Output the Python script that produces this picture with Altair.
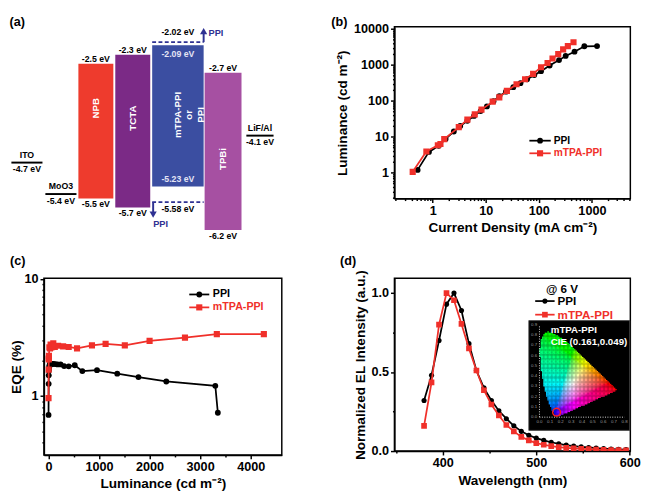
import altair as alt
import numpy as np
import pandas as pd

FONT = "Liberation Sans"
SERIES = ["PPI", "mTPA-PPI"]
SERIES_COLORS = ["#000000", "#F0302A"]
SERIES_SHAPES = ["circle", "square"]

# ---------------- (a) energy-level diagram ----------------
slot_widths = [32, 32, 36, 36, 53, 38, 28]      # ITO, MoO3, NPB, TCTA, EML, TPBi, LiF/Al
slot_gaps = [3, 2, 2, 2, 1, 5]

organic_names = ["NPB", "TCTA", "mTPA-PPI\nor\nPPI", "TPBi"]
organic_slots = [2, 3, 4, 5]
organic_lumo = [-2.5, -2.3, -2.09, -2.7]
organic_homo = [-5.5, -5.7, -5.23, -6.2]
organic_colors = ["#EE3B2D", "#7B2A86", "#3B4EA1", "#A650A2"]
organic_name_pos = [-3.49, -3.71, -3.64, -4.62]

electrode_names = ["ITO", "MoO3", "LiF/Al"]
electrode_slots = [0, 1, 6]
electrode_levels = [-4.7, -5.4, -4.1]

ppi_lumo = -2.02
ppi_homo = -5.58
ppi_arrow_tips = [-1.70, -5.93]
ARROW = "#2E3192"

# ---------------- (b) / (c) device data ----------------
ppi_J = [0.52, 0.85, 1.3, 1.75, 2.5, 3.3, 4.5, 6.0, 8.0, 10.5, 14, 18, 24, 33, 45, 60, 82, 110, 160, 240, 320, 470, 720, 1250]
ppi_L = [1.2, 3.8, 5.6, 8.7, 14, 20, 28, 38, 52, 70, 98, 135, 180, 240, 310, 400, 520, 670, 960, 1360, 1780, 2330, 3300, 3350]
ppi_EQE = [0.69, 1.27, 1.5, 1.65, 1.76, 1.83, 1.87, 1.88, 1.87, 1.87, 1.88, 1.87, 1.86, 1.86, 1.80, 1.79, 1.83, 1.63, 1.66, 1.55, 1.45, 1.33, 1.22, 0.72]

mtpa_J = [0.42, 0.76, 1.25, 1.4, 1.65, 3.1, 4.5, 6.2, 8.3, 13.5, 18, 25, 38, 55, 78, 110, 146, 181, 232, 287, 352, 450]
mtpa_L = [1.06, 3.9, 5.8, 6.3, 8.6, 18.5, 30, 42, 57, 95, 125, 190, 290, 400, 565, 860, 1130, 1510, 2000, 2700, 3330, 4260]
mtpa_EQE = [0.96, 1.68, 2.05, 2.1, 2.2, 2.6, 2.55, 2.75, 2.6, 2.82, 2.62, 2.68, 2.65, 2.62, 2.55, 2.70, 2.78, 2.70, 2.95, 3.15, 3.37, 3.37]

# ---------------- (d) EL spectra ----------------
wavelength = [380, 388, 396, 404, 412, 420, 428, 436, 444, 452, 460, 468, 476, 484,
              492, 500, 508, 516, 524, 532, 540, 548, 556, 564, 572, 580, 588, 596]
ppi_EL = [0.32, 0.48, 0.70, 0.93, 1.00, 0.89, 0.68, 0.51, 0.40, 0.32, 0.255, 0.205, 0.16, 0.125,
          0.10, 0.082, 0.068, 0.056, 0.046, 0.038, 0.032, 0.027, 0.023, 0.019, 0.016, 0.013, 0.011, 0.009]
mtpa_EL = [0.16, 0.435, 0.80, 1.00, 0.955, 0.805, 0.65, 0.51, 0.385, 0.295, 0.225, 0.165, 0.125, 0.09,
           0.068, 0.05, 0.04, 0.031, 0.025, 0.02, 0.017, 0.014, 0.012, 0.01, 0.008, 0.007, 0.006, 0.005]

# CIE 1931 spectral locus (chromaticity x, y)
cie_x = [0.1741, 0.1733, 0.1714, 0.1644, 0.1566, 0.1440, 0.1355, 0.1241, 0.1096, 0.0913, 0.0687, 0.0454,
         0.0235, 0.0082, 0.0039, 0.0139, 0.0389, 0.0743, 0.1142, 0.1547, 0.2296, 0.3016, 0.3731, 0.4441,
         0.5125, 0.5752, 0.6270, 0.6915, 0.7190, 0.7347]
cie_y = [0.0050, 0.0048, 0.0051, 0.0109, 0.0177, 0.0297, 0.0399, 0.0578, 0.0868, 0.1327, 0.2007, 0.2950,
         0.4127, 0.5384, 0.6548, 0.7502, 0.8120, 0.8338, 0.8262, 0.8059, 0.7543, 0.6923, 0.6245, 0.5547,
         0.4866, 0.4242, 0.3725, 0.3083, 0.2809, 0.2653]
cie_point = (0.161, 0.049)
inset_text = ["mTPA-PPI", "CIE (0.161,0.049)"]
panel_labels = ["(a)", "(b)", "(c)", "(d)"]


# ================= helpers =================
def panel_label(t, x, y):
    return alt.Chart(pd.DataFrame({"t": [t]})).mark_text(
        font=FONT, fontWeight="bold", fontSize=13, color="black", align="left", baseline="middle").encode(
        x=alt.value(x), y=alt.value(y), text="t:N")


def log_minor(lo, hi):
    out = []
    for e in range(-2, 6):
        for m in range(2, 10):
            v = round(m * 10.0 ** e, 6)
            if lo <= v <= hi:
                out.append(v)
    return out


def minor_layer(df, xf, yf, xs, ys, xminor, yminor):
    return alt.Chart(df).mark_point(opacity=0).encode(
        x=alt.X(f"{xf}:Q", scale=xs, axis=alt.Axis(orient="bottom", values=xminor, labels=False, title=None,
                                                    tickSize=2, domain=False, grid=False)),
        y=alt.Y(f"{yf}:Q", scale=ys, axis=alt.Axis(orient="left", values=yminor, labels=False, title=None,
                                                    tickSize=2, domain=False, grid=False)),
    )


def series_layers(frames, xf, yf, xs, ys, xaxis, yaxis, msizes, lw=1.8):
    layers = []
    for i, (df, col, shp, ms) in enumerate(zip(frames, SERIES_COLORS, SERIES_SHAPES, msizes)):
        layers.append(alt.Chart(df).mark_line(color=col, strokeWidth=lw, clip=True).encode(
            x=alt.X(f"{xf}:Q", scale=xs, axis=xaxis if i == 0 else None),
            y=alt.Y(f"{yf}:Q", scale=ys, axis=yaxis if i == 0 else None)))
        layers.append(alt.Chart(df).mark_point(filled=True, opacity=1, color=col, shape=shp, size=ms,
                                               clip=True).encode(
            x=alt.X(f"{xf}:Q", scale=xs, axis=None),
            y=alt.Y(f"{yf}:Q", scale=ys, axis=None)))
    return layers


def legend_layers(x0, x1, xt, y0, dy, fs, msizes, lw=1.8):
    layers = []
    for i, (name, col, shp, ms) in enumerate(zip(SERIES, SERIES_COLORS, SERIES_SHAPES, msizes)):
        d = pd.DataFrame({"series": [name]})
        y = y0 + i * dy
        layers.append(alt.Chart(d).mark_rule(color=col, strokeWidth=lw).encode(
            x=alt.value(x0), x2=alt.value(x1), y=alt.value(y)))
        layers.append(alt.Chart(d).mark_point(filled=True, opacity=1, color=col, shape=shp, size=ms).encode(
            x=alt.value((x0 + x1) / 2), y=alt.value(y)))
        layers.append(alt.Chart(d).mark_text(align="left", baseline="middle", font=FONT, fontWeight="bold",
                                             fontSize=fs, color=col).encode(
            x=alt.value(xt), y=alt.value(y), text="series:N"))
    return layers


# ================= panel (a) =================
# (a) shares its grid-cell origin with (c) (left edge) and (b) (top edge); its drawing spills past that frame
x0s = []
pos = 2
for i, w in enumerate(slot_widths):
    x0s.append(pos)
    pos += w + (slot_gaps[i] if i < len(slot_gaps) else 0)
x1s = [a + w for a, w in zip(x0s, slot_widths)]

A_W, A_H = 240, 177
A_X0 = 35.5
XA = alt.Scale(domain=[A_X0, A_X0 + A_W], nice=False, zero=False)
YA = alt.Scale(domain=[-5.502, -1.679], nice=False, zero=False)


def ax_(f):
    return alt.X(f, scale=XA, axis=None)


def ay_(f):
    return alt.Y(f, scale=YA, axis=None)


boxes = pd.DataFrame({
    "x0": [x0s[s] for s in organic_slots], "x1": [x1s[s] for s in organic_slots],
    "lumo": organic_lumo, "homo": organic_homo, "color": organic_colors,
    "name": organic_names, "npos": organic_name_pos,
})
boxes["xc"] = (boxes["x0"] + boxes["x1"]) / 2
boxes["top_t"] = [f"{v:g} eV" for v in organic_lumo]
boxes["bot_t"] = [f"{v:g} eV" for v in organic_homo]
boxes["top_ppi"] = [ppi_lumo if s == 4 else v for s, v in zip(organic_slots, organic_lumo)]
boxes["bot_ppi"] = [ppi_homo if s == 4 else v for s, v in zip(organic_slots, organic_homo)]
boxes["top_lab"] = [f"{ppi_lumo:g} eV" if s == 4 else t for s, t in zip(organic_slots, boxes["top_t"])]
boxes["bot_lab"] = [f"{ppi_homo:g} eV" if s == 4 else t for s, t in zip(organic_slots, boxes["bot_t"])]
eml = boxes[boxes["x0"] == x0s[4]].reset_index(drop=True)
others = boxes[boxes["x0"] != x0s[4]].reset_index(drop=True)

elec = pd.DataFrame({
    "x0": [x0s[s] for s in electrode_slots], "x1": [x1s[s] for s in electrode_slots],
    "E": electrode_levels, "name": electrode_names,
})
elec["xc"] = (elec["x0"] + elec["x1"]) / 2
elec["val"] = [f"{v:g} eV" for v in electrode_levels]

txt = dict(font=FONT, fontWeight="bold", fontSize=9, color="black", align="center", baseline="alphabetic")

rects = alt.Chart(boxes).mark_rect().encode(
    x=ax_("x0:Q"), x2="x1:Q", y=ay_("lumo:Q"), y2="homo:Q", color=alt.Color("color:N", scale=None))
elec_lines = alt.Chart(elec).mark_rule(color="black", strokeWidth=2).encode(
    x=ax_("x0:Q"), x2="x1:Q", y=ay_("E:Q"))
elec_names = alt.Chart(elec).mark_text(dy=-5, **txt).encode(x=ax_("xc:Q"), y=ay_("E:Q"), text="name:N")
elec_vals = alt.Chart(elec).mark_text(dy=10, **txt).encode(x=ax_("xc:Q"), y=ay_("E:Q"), text="val:N")
top_vals = alt.Chart(others).mark_text(dy=-1.5, **txt).encode(x=ax_("xc:Q"), y=ay_("lumo:Q"), text="top_t:N")
bot_vals = alt.Chart(others).mark_text(dy=9, **txt).encode(x=ax_("xc:Q"), y=ay_("homo:Q"), text="bot_t:N")
ppi_top_val = alt.Chart(eml).mark_text(dy=-7, **txt).encode(x=ax_("xc:Q"), y=ay_("top_ppi:Q"), text="top_lab:N")
ppi_bot_val = alt.Chart(eml).mark_text(dy=10, **txt).encode(x=ax_("xc:Q"), y=ay_("bot_ppi:Q"), text="bot_lab:N")
in_txt = dict(txt, color="#E4E4F4")
eml_top_in = alt.Chart(eml).mark_text(dy=12, **in_txt).encode(x=ax_("xc:Q"), y=ay_("lumo:Q"), text="top_t:N")
eml_bot_in = alt.Chart(eml).mark_text(dy=-5, **in_txt).encode(x=ax_("xc:Q"), y=ay_("homo:Q"), text="bot_t:N")
names_rot = alt.Chart(boxes).mark_text(angle=270, font=FONT, fontWeight="bold", fontSize=10, color="white",
                                       align="center", baseline="middle", lineBreak="\n", lineHeight=12).encode(
    x=ax_("xc:Q"), y=ay_("npos:Q"), text="name:N")

dash = pd.DataFrame({"x0": [x0s[4]] * 2, "x1": [x1s[4]] * 2, "E": [ppi_lumo, ppi_homo]})
dashes = alt.Chart(dash).mark_rule(color=ARROW, strokeWidth=2, strokeDash=[4, 2.5]).encode(
    x=ax_("x0:Q"), x2="x1:Q", y=ay_("E:Q"))
arrows = pd.DataFrame({
    "x": [x1s[4], x0s[4] + 1], "E0": [ppi_lumo, ppi_homo],
    "tip": ppi_arrow_tips, "head": [ppi_arrow_tips[0] - 0.075, ppi_arrow_tips[1] + 0.075],
    "shape": ["triangle-up", "triangle-down"], "lab": ["PPI", "PPI"],
    "lx": [x1s[4] + 5, x0s[4] + 1], "ly": [-1.81, -6.06],
})
arrow_shafts = alt.Chart(arrows).mark_rule(color=ARROW, strokeWidth=2).encode(
    x=ax_("x:Q"), y=ay_("E0:Q"), y2="head:Q")
arrow_heads = alt.Chart(arrows).mark_point(filled=True, opacity=1, color=ARROW, size=55).encode(
    x=ax_("x:Q"), y=ay_("head:Q"), shape=alt.Shape("shape:N", scale=None))
arrow_labs = alt.Chart(arrows).mark_text(font=FONT, fontWeight="bold", fontSize=9.5, color=ARROW,
                                         align="left", baseline="middle").encode(
    x=ax_("lx:Q"), y=ay_("ly:Q"), text="lab:N")

panel_a = alt.layer(rects, elec_lines, dashes, arrow_shafts, arrow_heads, elec_names, elec_vals, top_vals,
                    bot_vals, ppi_top_val, ppi_bot_val, eml_top_in, eml_bot_in, names_rot, arrow_labs,
                    panel_label(panel_labels[0], -A_X0, -5)).properties(
    width=A_W, height=A_H, view=alt.ViewBackground(stroke="transparent"))

# ================= panel (b) =================
xs_b = alt.Scale(type="log", domain=[0.19, 5300], nice=False)
ys_b = alt.Scale(type="log", domain=[0.19, 11500], nice=False)
frames_b = [pd.DataFrame({"J": ppi_J, "L": ppi_L}), pd.DataFrame({"J": mtpa_J, "L": mtpa_L})]
panel_b = alt.layer(
    minor_layer(frames_b[0], "J", "L", xs_b, ys_b, log_minor(0.19, 5300), log_minor(0.19, 11500)),
    *series_layers(frames_b, "J", "L", xs_b, ys_b,
                   alt.Axis(orient="bottom", title="Current Density (mA cm⁻²)", values=[1, 10, 100, 1000], format="d"),
                   alt.Axis(orient="left", title="Luminance (cd m⁻²)", values=[1, 10, 100, 1000, 10000], format="d"),
                   [36, 40]),
    *legend_layers(139, 161, 164, 117.3, 13, 10.5, [36, 40]),
    panel_label(panel_labels[1], -65, -5),
).resolve_axis(x="independent", y="independent").properties(width=243, height=177)

# ================= panel (c) =================
xs_c = alt.Scale(domain=[-90, 4615], nice=False, zero=False)
ys_c = alt.Scale(type="log", domain=[0.314, 10.1], nice=False)
frames_c = [pd.DataFrame({"L": ppi_L, "EQE": ppi_EQE}), pd.DataFrame({"L": mtpa_L, "EQE": mtpa_EQE})]
panel_c = alt.layer(
    minor_layer(frames_c[0], "L", "EQE", xs_c, ys_c, [500, 1500, 2500, 3500], log_minor(0.314, 10.1)),
    *series_layers(frames_c, "L", "EQE", xs_c, ys_c,
                   alt.Axis(orient="bottom", title="Luminance (cd m⁻²)", values=[0, 1000, 2000, 3000, 4000], format="d"),
                   alt.Axis(orient="left", title="EQE (%)", values=[1, 10], format="d", titlePadding=1),
                   [36, 40]),
    *legend_layers(149.7, 170.3, 174, 16.7, 13.3, 11, [36, 40]),
    panel_label(panel_labels[2], -35, -18),
).resolve_axis(x="independent", y="independent").properties(width=245, height=182)

# ================= panel (d) =================
xs_d = alt.Scale(domain=[348.3, 600.6], nice=False, zero=False)
ys_d = alt.Scale(domain=[0, 1.094], nice=False, zero=False)
frames_d = [pd.DataFrame({"wl": wavelength, "I": ppi_EL}), pd.DataFrame({"wl": wavelength, "I": mtpa_EL})]

# inset: CIE chromaticity diagram placed in data space of (d)
INSET_L0, INSET_LS = 503.4, 113.8     # wavelength-axis position of CIE x = 0 and units per CIE unit
INSET_I0, INSET_IS = 0.2147, 0.648    # intensity-axis position of CIE y = 0 and units per CIE unit


def to_l(cx):
    return INSET_L0 + INSET_LS * np.asarray(cx)


def to_i(cy):
    return INSET_I0 + INSET_IS * np.asarray(cy)


def inside(px, py, polx, poly):
    res = np.zeros(px.shape, bool)
    n = len(polx)
    j = n - 1
    for i in range(n):
        xi, yi, xj, yj = polx[i], poly[i], polx[j], poly[j]
        cond = ((yi > py) != (yj > py)) & (px < (xj - xi) * (py - yi) / ((yj - yi) + 1e-12) + xi)
        res ^= cond
        j = i
    return res


step = 0.0125
gx, gy = np.meshgrid(np.arange(step / 2, 0.75, step), np.arange(step / 2, 0.85, step))
mask = inside(gx, gy, cie_x, cie_y)
cx, cy = gx[mask], gy[mask]
X = cx / cy
Z = (1 - cx - cy) / cy
R = 3.2406 * X - 1.5372 - 0.4986 * Z
G = -0.9689 * X + 1.8758 + 0.0415 * Z
B = 0.0557 * X - 0.2040 + 1.0570 * Z
rgb = np.clip(np.stack([R, G, B], 1), 0, None)
rgb = rgb / rgb.max(1, keepdims=True)
rgb = np.where(rgb <= 0.0031308, 12.92 * rgb, 1.055 * rgb ** (1 / 2.4) - 0.055)
hexes = ["#%02x%02x%02x" % tuple(int(round(c * 255)) for c in row) for row in rgb]
half = step * 0.55
cie_df = pd.DataFrame({"l0": to_l(cx - half), "l1": to_l(cx + half), "i0": to_i(cy - half),
                       "i1": to_i(cy + half), "c": hexes})

box_df = pd.DataFrame({"l0": [492], "l1": [600], "i0": [0.131], "i1": [0.826]})
inset_bg = alt.Chart(box_df).mark_rect(color="black", stroke="#444444", strokeWidth=0.8).encode(
    x=alt.X("l0:Q", scale=xs_d, axis=None), x2="l1:Q", y=alt.Y("i0:Q", scale=ys_d, axis=None), y2="i1:Q")
inset_cie = alt.Chart(cie_df).mark_rect().encode(
    x=alt.X("l0:Q", scale=xs_d, axis=None), x2="l1:Q", y=alt.Y("i0:Q", scale=ys_d, axis=None), y2="i1:Q",
    color=alt.Color("c:N", scale=None))
iax = pd.DataFrame({"l0": [float(to_l(0)), float(to_l(0))], "l1": [float(to_l(0.8)), float(to_l(0))],
                    "i0": [float(to_i(0)), float(to_i(0))], "i1": [float(to_i(0)), float(to_i(0.9))]})
inset_axes = alt.Chart(iax).mark_rule(color="#DDDDDD", strokeWidth=1, strokeDash=[1, 1.5]).encode(
    x=alt.X("l0:Q", scale=xs_d, axis=None), x2="l1:Q", y=alt.Y("i0:Q", scale=ys_d, axis=None), y2="i1:Q")
xt = [round(0.1 * k, 1) for k in range(9)]
yt = [round(0.1 * k, 1) for k in range(10)]
itx = pd.DataFrame({"l": to_l(xt), "i": [float(to_i(-0.045))] * len(xt), "t": [f"{v:.1f}" for v in xt]})
ity = pd.DataFrame({"l": [float(to_l(-0.05))] * len(yt), "i": to_i(yt), "t": [f"{v:.1f}" for v in yt]})
small = dict(font=FONT, fontSize=4.5, color="#9A9A9A", align="center", baseline="middle")
inset_tx = alt.Chart(itx).mark_text(**small).encode(
    x=alt.X("l:Q", scale=xs_d, axis=None), y=alt.Y("i:Q", scale=ys_d, axis=None), text="t:N")
inset_ty = alt.Chart(ity).mark_text(**small).encode(
    x=alt.X("l:Q", scale=xs_d, axis=None), y=alt.Y("i:Q", scale=ys_d, axis=None), text="t:N")
pt_df = pd.DataFrame({"l": [float(to_l(cie_point[0]))], "i": [float(to_i(cie_point[1]))]})
inset_pt = alt.Chart(pt_df).mark_point(shape="circle", filled=False, color="#FF2020", strokeWidth=1.5,
                                       size=64, opacity=1).encode(
    x=alt.X("l:Q", scale=xs_d, axis=None), y=alt.Y("i:Q", scale=ys_d, axis=None))
it_df = pd.DataFrame({"l": [515.5, 515.5], "i": [0.764, 0.693], "t": inset_text})
inset_label = alt.Chart(it_df).mark_text(font=FONT, fontWeight="bold", fontSize=10, color="white",
                                         align="left", baseline="middle").encode(
    x=alt.X("l:Q", scale=xs_d, axis=None), y=alt.Y("i:Q", scale=ys_d, axis=None), text="t:N")

volt = alt.Chart(pd.DataFrame({"t": ["@ 6 V"]})).mark_text(
    font=FONT, fontWeight="bold", fontSize=12, color="black", align="left", baseline="middle").encode(
    x=alt.value(156), y=alt.value(11.5), text="t:N")

panel_d = alt.layer(
    minor_layer(frames_d[0], "wl", "I", xs_d, ys_d, [350, 450, 550], [0.25, 0.75]),
    *series_layers(frames_d, "wl", "I", xs_d, ys_d,
                   alt.Axis(orient="bottom", title="Wavelength (nm)", values=[400, 500, 600], format="d"),
                   alt.Axis(orient="left", title="Normalized EL Intensity (a.u.)", values=[0, 0.5, 1.0],
                            format=".1f"),
                   [28, 34]),
    inset_bg, inset_cie, inset_axes, inset_tx, inset_ty, inset_pt, inset_label,
    volt,
    *legend_layers(145, 165, 168, 23.5, 14, 12, [28, 34]),
    panel_label(panel_labels[3], -56, -18),
).resolve_axis(x="independent", y="independent").properties(width=243, height=178)

chart = alt.concat(panel_a, panel_b, panel_c, panel_d, columns=2,
                   spacing=alt.RowColnumber(row=12, column=49)).properties(padding=0).configure_view(
    stroke="black", strokeWidth=1.5
).configure_axis(
    labelFont=FONT, labelFontSize=13, labelFontWeight="bold", labelColor="black",
    titleFont=FONT, titleFontSize=14, titleFontWeight="bold", titleColor="black",
    domainColor="black", domainWidth=1.5, tickColor="black", tickWidth=1.5, tickSize=4,
    grid=False, labelPadding=2, titlePadding=4, labelFlush=False,
)

chart.save("out.html", embed_options={"renderer": "svg", "actions": False})
